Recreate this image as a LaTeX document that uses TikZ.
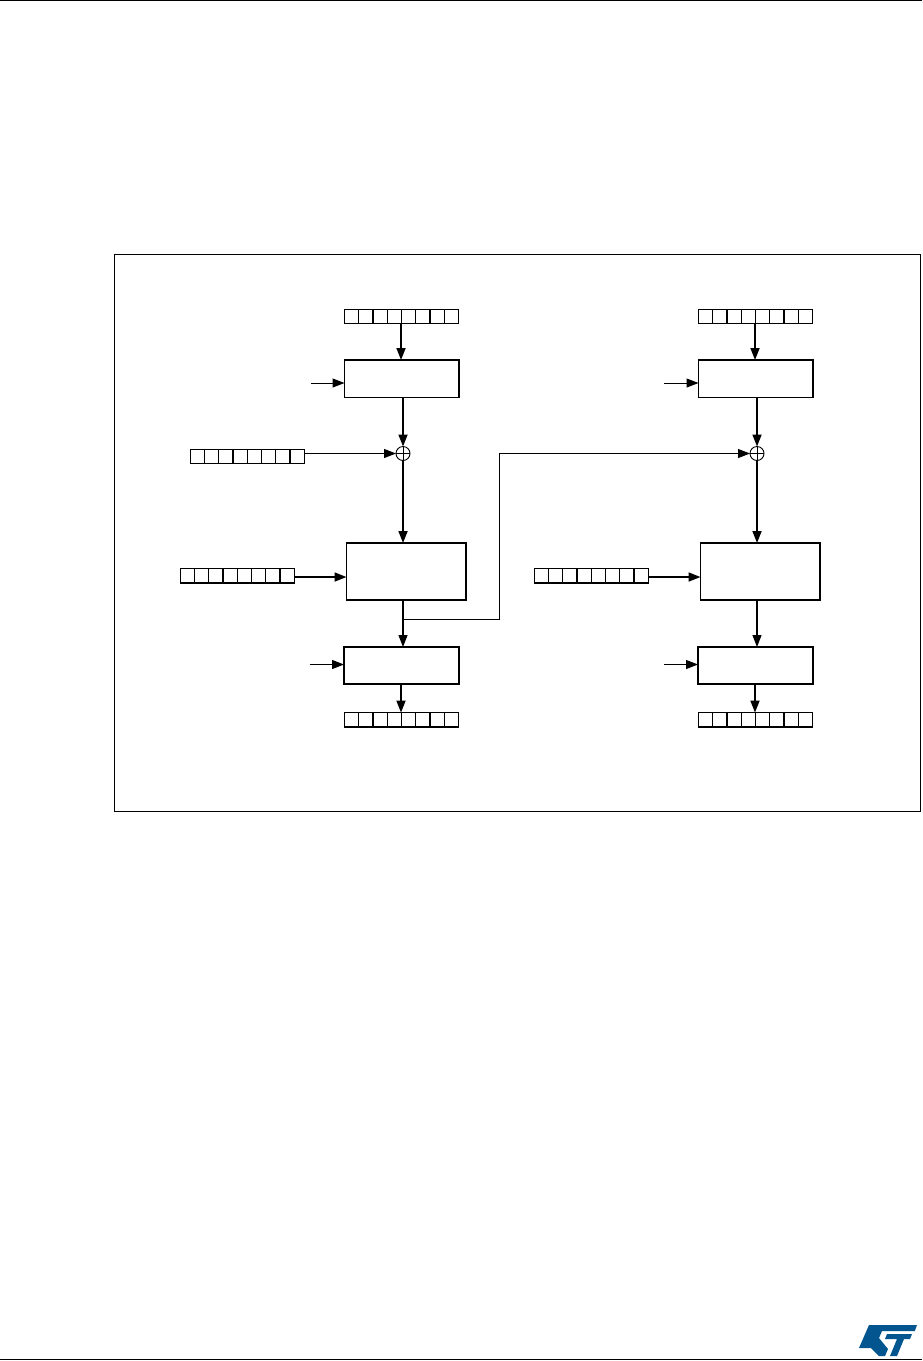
\documentclass[tikz,border=0pt]{standalone}
\usetikzlibrary{arrows.meta,calc}
\definecolor{stblue}{HTML}{03558F}
\tikzset{
  boxn/.style={draw=black,line width=1.3pt,rectangle,outer sep=0pt,inner sep=0pt,minimum width=#1},
  regn/.style={draw=black,line width=1.4pt,rectangle,outer sep=0pt,inner sep=0pt,minimum width=114pt,minimum height=14.5pt,
    path picture={\foreach \i in {1,...,7}{\draw[line width=1.1pt] ($(path picture bounding box.west)+(14.25*\i pt,-10pt)$) -- ++(0,20pt);}}},
  heavy/.style={line width=1.7pt,-{Triangle[length=12pt,width=9pt]}},
  medium/.style={line width=1.2pt,-{Triangle[length=12pt,width=9pt]}},
  light/.style={line width=1pt,-{Triangle[length=12pt,width=9pt]}},
  xorn/.style={draw=black,line width=0.9pt,circle,minimum size=14pt,inner sep=0pt,outer sep=0pt,
    path picture={\draw[line width=0.9pt] (path picture bounding box.north)--(path picture bounding box.south) (path picture bounding box.west)--(path picture bounding box.east);}},
}
\begin{document}
\begin{tikzpicture}[x=1pt,y=-1pt]
\useasboundingbox (0,0) rectangle (922,1361);
\fill[white] (0,0) rectangle (922,1361);
\draw[line width=1pt] (0,0.5) -- (922,0.5);
\draw[line width=1pt] (0,1359.5) -- (922,1359.5);
\node[draw=black,line width=0.8pt,rectangle,outer sep=0pt,minimum width=806pt,minimum height=557pt] (frame) at (517.25,532.5) {};
% left column
\node[regn] (regA) at (401.5,316.5) {};
\node[boxn=114.5pt,minimum height=37.5pt] (boxA) at (401.75,378.75) {};
\node[xorn] (xorA) at (403,453.5) {};
\node[regn] (regB) at (247.25,456.5) {};
\node[boxn=119.5pt,minimum height=57pt] (boxB) at (406.25,571.5) {};
\node[regn] (regC) at (237.25,575.8) {};
\node[boxn=115pt,minimum height=37pt] (boxC) at (401.5,665.5) {};
\node[regn] (regD) at (401.5,719.8) {};
% right column
\node[regn] (regE) at (755.5,316.5) {};
\node[boxn=114.5pt,minimum height=37.5pt] (boxE) at (755.75,378.75) {};
\node[xorn] (xorE) at (757,453.5) {};
\node[boxn=119.5pt,minimum height=57pt] (boxF) at (760.25,571.5) {};
\node[regn] (regF) at (591.25,575.8) {};
\node[boxn=115pt,minimum height=37pt] (boxG) at (755.5,665.5) {};
\node[regn] (regG) at (755.5,719.8) {};
% free ends
\coordinate (inA) at (311,383);
\coordinate (inC) at (310,664.5);
\coordinate (inE) at (664,383);
\coordinate (inG) at (664,664.5);
\coordinate (tap) at (403,619);
\coordinate (upx) at (499,619);
\coordinate (upy) at (499,453.5);
\coordinate (lvB) at (346.5,577);
\coordinate (lvF) at (700.5,577);
\coordinate (ctrA) at (401,324);
\coordinate (ctrE) at (755,324);
\coordinate (ctrC) at (401,684);
\coordinate (ctrG) at (755,684);
% connectors, left
\draw[heavy] (ctrA) -- (ctrA |- boxA.north);
\draw[light] (inA) -- (inA -| boxA.west);
\draw[heavy] (boxA.south -| xorA) -- (xorA.north);
\draw[light] (regB.east |- xorA) -- (xorA.west);
\draw[heavy] (xorA.south) -- (boxB.north -| xorA);
\draw[heavy] (regC.east |- lvB) -- (lvB);
\draw[medium] (boxB.south -| tap) -- (boxC.north -| tap);
\draw[light] (inC) -- (inC -| boxC.west);
\draw[heavy] (ctrC) -- (ctrC |- regD.north);
% cross link
\draw[light] (tap) -- (upx) -- (upy) -- (xorE.west);
% connectors, right
\draw[heavy] (ctrE) -- (ctrE |- boxE.north);
\draw[light] (inE) -- (inE -| boxE.west);
\draw[heavy] (boxE.south -| xorE) -- (xorE.north);
\draw[heavy] (xorE.south) -- (boxF.north -| xorE);
\draw[heavy] (regF.east |- lvF) -- (lvF);
\draw[medium] (boxF.south -| xorE) -- (boxG.north -| xorE);
\draw[light] (inG) -- (inG -| boxG.west);
\draw[heavy] (ctrG) -- (ctrG |- regG.north);
% logo
\fill[stblue] (869,1325) -- (917,1325) -- (914.8,1331) -- (882,1331) -- (879,1338) -- (888,1349) -- (885,1356) -- (879,1356) -- (871,1348) -- (859,1348) -- cycle;
\fill[stblue] (887,1334) -- (912,1334) -- (910,1339) -- (904,1339) -- (897,1356) -- (890,1356) -- (897,1339) -- (885,1339) -- cycle;
\end{tikzpicture}
\end{document}
